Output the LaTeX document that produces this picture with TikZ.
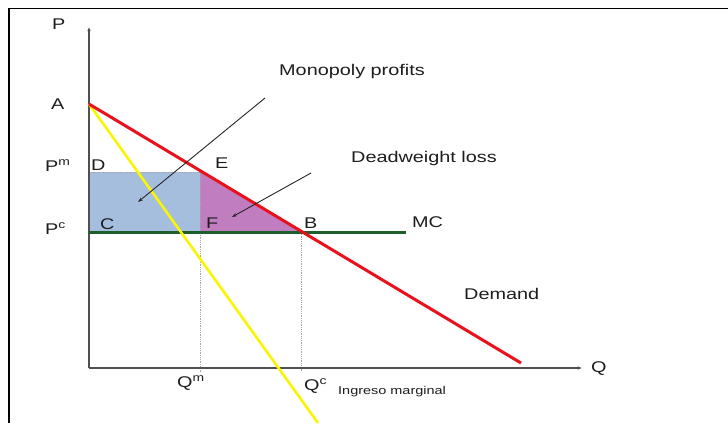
\documentclass[tikz,border=0pt]{standalone}
\usepackage{fontspec}
\setmainfont{Liberation Sans}[FakeStretch=1.28]
\usetikzlibrary{arrows.meta}
\definecolor{demred}{RGB}{232,18,28}
\definecolor{mryel}{RGB}{250,245,0}
\definecolor{mcgreen}{RGB}{28,95,42}
\definecolor{profblue}{RGB}{166,190,222}
\definecolor{dwlpurple}{RGB}{192,126,192}
\definecolor{axisgray}{RGB}{80,80,80}
\definecolor{txt}{RGB}{30,30,30}
\begin{document}
\begin{tikzpicture}[x=1bp,y=-1bp,
  lbl/.style={anchor=base west,inner sep=0pt,text=txt,font=\fontsize{15.5bp}{18bp}\selectfont},
  smalllbl/.style={anchor=base west,inner sep=0pt,text=txt,font=\fontsize{11.3bp}{13bp}\selectfont},
  axisline/.style={draw=axisgray,line width=1.3bp,-{Latex[length=4bp,width=3.5bp]}},
  guide/.style={draw=gray!70,line width=0.8bp,densely dotted},
  pointer/.style={draw=black!85,line width=0.9bp,-{Stealth[length=5bp,width=3.5bp]}}]
\useasboundingbox (0,0) rectangle (728,423);
\fill[white] (0,0) rectangle (728,423);
\draw[line width=1.6bp] (728,8.5) -- (9,8.5) -- (9,423);
% key points
\coordinate (O) at (89,368);
\coordinate (Ptop) at (89,27);
\coordinate (Qend) at (582,368);
\coordinate (A) at (89,104);
\coordinate (D) at (89,172);
\coordinate (E) at (200,172);
\coordinate (C) at (89,232);
\coordinate (F) at (200,232);
\coordinate (B) at (301,232);
\coordinate (MCend) at (406,232);
\coordinate (Dend) at (521,363);
\coordinate (MRend) at (318,423);
\coordinate (Qm) at (200,372);
\coordinate (Qc) at (301,372);
\coordinate (mp1) at (265,98);
\coordinate (mp2) at (138,202);
\coordinate (dw1) at (311,173);
\coordinate (dw2) at (232,217);
% areas
\fill[profblue] (D) rectangle (F);
\fill[dwlpurple] (E) -- (B) -- (F) -- cycle;
\draw[guide] (D) -- (E);
\draw[guide] (E) -- (Qm);
\draw[guide] (B) -- (Qc);
% axes
\draw[axisline] (O) -- (Ptop);
\draw[axisline] (O) -- (Qend);
% curves
\draw[mcgreen,line width=3bp] (C) -- (MCend);
\draw[mryel,line width=2.6bp] (A) -- (MRend);
\draw[demred,line width=3bp] (A) -- (Dend);
% pointers
\draw[pointer] (mp1) -- (mp2);
\draw[pointer] (dw1) -- (dw2);
% labels
\node[lbl] (lP) at (52,29) {P};
\node[lbl] (lA) at (51,109) {A};
\node[lbl] (lPm) at (45,171) {P\textsuperscript{m}};
\node[lbl] (lD) at (91,170.5) {D};
\node[lbl] (lE) at (215,168) {E};
\node[lbl] (lPc) at (45,234) {P\textsuperscript{c}};
\node[lbl] (lC) at (100,229) {C};
\node[lbl] (lF) at (206,228) {F};
\node[lbl] (lB) at (304,228) {B};
\node[lbl] (lMC) at (412,227) {MC};
\node[lbl] (lDem) at (464,299) {Demand};
\node[lbl] (lQ) at (591,372) {Q};
\node[lbl] (lQm) at (177,387) {Q\textsuperscript{m}};
\node[lbl] (lQc) at (304,390) {Q\textsuperscript{c}};
\node[smalllbl] (lMR) at (338,394.5) {Ingreso marginal};
\node[lbl] (lMon) at (279,75) {Monopoly profits};
\node[lbl] (lDW) at (351,162) {Deadweight loss};
\end{tikzpicture}
\end{document}
